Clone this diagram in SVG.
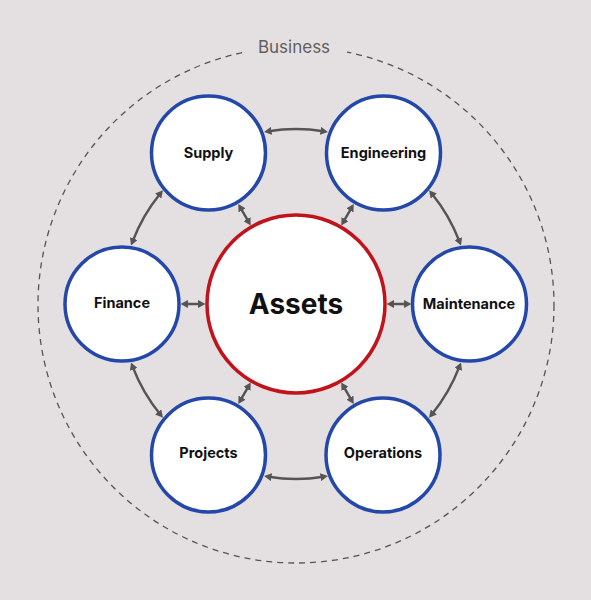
<svg xmlns="http://www.w3.org/2000/svg" width="591" height="600" viewBox="0 0 591 600">
<style>
.node{fill:#ffffff;stroke:#2448aa;stroke-width:3.5}
.core{fill:#ffffff;stroke:#c2121c;stroke-width:3.5}
.lbl{font-family:Inter,"Liberation Sans",Arial,sans-serif;font-weight:700;font-size:14.5px;fill:#111;text-anchor:middle}
.big{font-family:Inter,"Liberation Sans",Arial,sans-serif;font-weight:700;font-size:28px;fill:#111;text-anchor:middle}
.conn{fill:none;stroke:#555;stroke-width:2.5;marker-start:url(#ah);marker-end:url(#ah)}
</style>
<defs>
<marker id="ah" markerUnits="userSpaceOnUse" markerWidth="7.5" markerHeight="8" refX="3" refY="4" orient="auto-start-reverse" viewBox="0 0 7.5 8">
<path d="M0,0 L7.5,4 L0,8 z" fill="#555"/>
</marker>
</defs>
<rect width="591" height="600" fill="#e4dfe0"/>
<g id="business">
<circle cx="296" cy="305" r="258" fill="none" stroke="#555" stroke-width="1.3" stroke-dasharray="6 5"/>
<rect x="243" y="34" width="104" height="26" fill="#e4dfe0"/>
<text x="294" y="53" font-family="Inter,'Liberation Sans',Arial,sans-serif" font-size="17" fill="#5f5f5f" text-anchor="middle">Business</text>
</g>
<g id="connectors">
<path class="conn" d="M268.5,131.3 A175,175 0 0 1 323.5,131.3"/>
<path class="conn" d="M431.9,193.8 A175,175 0 0 1 459.4,241.4"/>
<path class="conn" d="M459.4,366.6 A175,175 0 0 1 431.9,414.2"/>
<path class="conn" d="M323.5,476.7 A175,175 0 0 1 268.5,476.7"/>
<path class="conn" d="M160.1,414.2 A175,175 0 0 1 132.6,366.6"/>
<path class="conn" d="M132.6,241.4 A175,175 0 0 1 160.1,193.8"/>
<path class="conn" d="M201,304 L185,304"/>
<path class="conn" d="M391,304 L407,304"/>
<path class="conn" d="M248.5,221.7 L240.5,207.8"/>
<path class="conn" d="M343.5,221.7 L351.5,207.8"/>
<path class="conn" d="M343.5,386.3 L351.5,400.2"/>
<path class="conn" d="M248.5,386.3 L240.5,400.2"/>
</g>
<g id="assets">
<circle class="core" cx="296" cy="304" r="89"/>
<text class="big" x="296" y="314">Assets</text>
</g>
<g id="supply">
<circle class="node" cx="208.5" cy="153" r="57"/>
<text class="lbl" x="208.5" y="158">Supply</text>
</g>
<g id="engineering">
<circle class="node" cx="383.5" cy="153" r="57"/>
<text class="lbl" x="383.5" y="158">Engineering</text>
</g>
<g id="maintenance">
<circle class="node" cx="469.5" cy="304" r="57"/>
<text class="lbl" x="469" y="309">Maintenance</text>
</g>
<g id="operations">
<circle class="node" cx="383" cy="455" r="57"/>
<text class="lbl" x="383" y="458">Operations</text>
</g>
<g id="projects">
<circle class="node" cx="208.5" cy="455" r="57"/>
<text class="lbl" x="208.5" y="458">Projects</text>
</g>
<g id="finance">
<circle class="node" cx="122" cy="304" r="57"/>
<text class="lbl" x="122" y="308">Finance</text>
</g>
</svg>
